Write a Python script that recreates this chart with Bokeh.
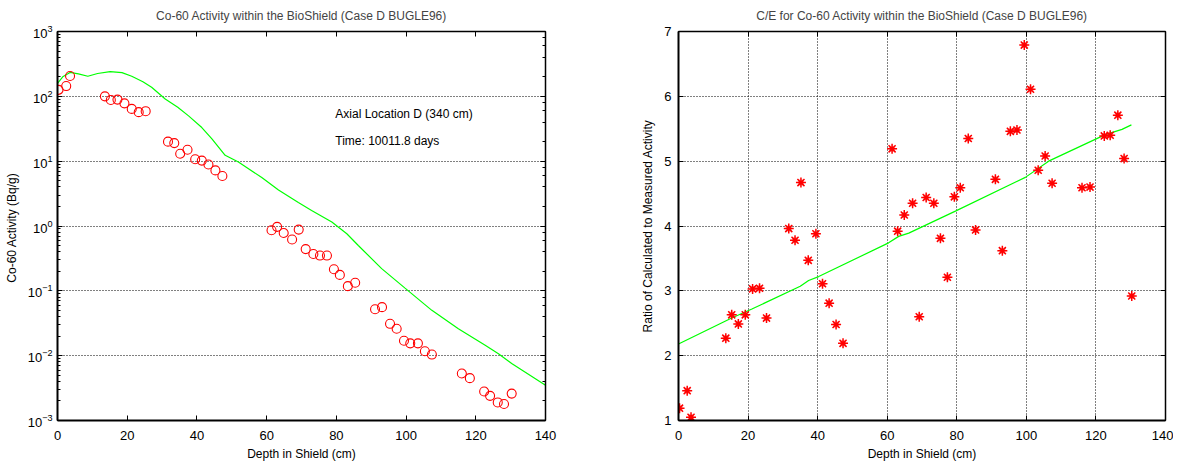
from bokeh.plotting import figure
from bokeh.layouts import row
from bokeh.models import (LinearAxis, LogAxis, Range1d, FixedTicker, Label, CustomJSTickFormatter)
from bokeh.embed import file_html
from bokeh.resources import INLINE

FONT = "Liberation Sans"

# ---------------- data ----------------
depth = [0.3, 2.5, 3.6, 13.6, 15.3, 17.2, 19.2, 21.3, 23.3, 25.3,
         31.7, 33.5, 35.2, 37.3, 39.5, 41.4, 43.3, 45.3, 47.3,
         61.4, 63.0, 64.9, 67.3, 69.2, 71.2, 73.4, 75.3, 77.3, 79.3, 81.0, 83.3, 85.4,
         91.1, 93.1, 95.4, 97.3, 99.4, 101.2, 103.4, 105.4, 107.4,
         116.0, 118.3, 122.4, 124.1, 126.3, 128.1, 130.3]

measured = [126, 144, 206, 100, 88, 89, 78, 64, 57, 59,
            20, 19, 13, 15, 10.7, 10.2, 8.9, 7.2, 5.9,
            0.86, 0.97, 0.78, 0.62, 0.88, 0.44, 0.37, 0.35, 0.35, 0.215, 0.176, 0.118, 0.133,
            0.052, 0.056, 0.031, 0.026, 0.017, 0.0155, 0.0155, 0.0117, 0.0104,
            0.0053, 0.0045, 0.0028, 0.0024, 0.0019, 0.0018, 0.0026]

ce_ratio = [1.19, 1.46, 1.05, 2.27, 2.63, 2.49, 2.63, 3.03, 3.04, 2.58,
            3.96, 3.78, 4.67, 3.47, 3.88, 3.11, 2.81, 2.48, 2.19,
            5.19, 3.92, 4.17, 4.35, 2.60, 4.44, 4.35, 3.81, 3.21, 4.45, 4.59, 5.35, 3.94,
            4.72, 3.62, 5.46, 5.48, 6.79, 6.11, 4.86, 5.08, 4.66,
            4.59, 4.60, 5.39, 5.40, 5.71, 5.04, 2.92]

calc_depth = [0, 1.5, 3.6, 6.0, 8.7, 11.5, 15.1, 18.5, 21.3, 24.5, 27, 30.9, 34.5,
              37.6, 41.4, 44.3, 48.1, 51.9, 58.6, 63.4, 69.1, 72.9, 78.7, 83, 86.3,
              93, 99.7, 107.4, 115, 122.7, 126.5, 130.3, 140]
calc_act = [158, 200, 234, 222, 204, 225, 240, 232, 204, 168, 138, 91, 68,
            50, 33, 22, 12.3, 9.7, 5.6, 3.6, 2.3, 1.74, 1.15, 0.76, 0.50,
            0.22, 0.11, 0.050, 0.026, 0.0145, 0.0107, 0.0076, 0.0035]

fit_depth = [0, 15.3, 21.1, 35, 37.4, 40.3, 60.4, 63.3, 66.2, 79.6, 99.7, 106.4,
             122.7, 127.5, 130.2]
fit_ratio = [2.18, 2.58, 2.72, 3.07, 3.16, 3.22, 3.74, 3.84, 3.89, 4.23, 4.75, 5.0,
             5.41, 5.49, 5.56]

x_ticks = [0, 20, 40, 60, 80, 100, 120, 140]
ce_ticks = [1, 2, 3, 4, 5, 6, 7]

title_left = "Co-60 Activity within the BioShield (Case D BUGLE96)"
title_right = "C/E for Co-60 Activity within the BioShield (Case D BUGLE96)"
note1 = "Axial Location D (340 cm)"
note2 = "Time: 10011.8 days"


def style_axis(ax, labels=True, width=1.5):
    ax.axis_line_width = width
    ax.axis_line_color = "black"
    ax.major_tick_in = 5
    ax.major_tick_out = 0
    ax.minor_tick_in = 3
    ax.minor_tick_out = 0
    ax.major_tick_line_color = "black"
    ax.minor_tick_line_color = "black"
    ax.major_label_text_font = FONT
    ax.major_label_text_font_size = "13px"
    ax.major_label_text_color = "black"
    ax.major_label_standoff = 7
    ax.axis_label_text_font = FONT
    ax.axis_label_text_font_size = "12px"
    ax.axis_label_text_font_style = "normal"
    ax.axis_label_text_color = "black"
    ax.axis_label_standoff = 6
    if not labels:
        ax.formatter = CustomJSTickFormatter(code="return ' ';")
        ax.major_label_standoff = 0
        ax.major_label_text_font_size = "1px"


def style_title(p):
    p.title.text_font = FONT
    p.title.text_font_size = "12px"
    p.title.text_font_style = "normal"
    p.title.align = "center"
    p.title.offset = 0
    p.title.standoff = 9


def style_xaxis(ax):
    style_axis(ax, width=2)
    ax.major_label_standoff = 10
    ax.axis_label_standoff = 4


# ---------------- left plot ----------------
p1 = figure(width=612, height=463, y_axis_type="log", output_backend="svg",
            toolbar_location=None, title=title_left,
            x_range=Range1d(0, 140), y_range=Range1d(1e-3, 1e3),
            min_border_left=57, min_border_right=67, min_border_top=31, min_border_bottom=42)
style_title(p1)
p1.outline_line_color = "black"
p1.outline_line_width = 1
p1.background_fill_color = "white"
p1.xgrid.grid_line_color = None
p1.ygrid.grid_line_color = "black"
p1.ygrid.grid_line_dash = "1 2"
p1.ygrid.grid_line_width = 1
p1.xaxis.ticker = FixedTicker(ticks=x_ticks)
p1.xaxis.axis_label = "Depth in Shield (cm)"
p1.yaxis.axis_label = "Co-60 Activity  (Bq/g)"
style_xaxis(p1.xaxis[0])
style_axis(p1.yaxis[0], width=2)
p1.yaxis[0].major_label_standoff = 5

top1 = LinearAxis(ticker=FixedTicker(ticks=x_ticks))
style_axis(top1, labels=False)
p1.add_layout(top1, "above")
right1 = LogAxis()
style_axis(right1, labels=False)
p1.add_layout(right1, "right")

p1.line(calc_depth, calc_act, line_color="#00ff00", line_width=1.2)
p1.scatter(depth, measured, marker="circle", size=9, fill_color=None,
           line_color="red", line_width=1.1)

p1.add_layout(Label(x=79.7, y=53.5, text=note1, text_font=FONT, text_font_size="12px",
                    text_baseline="middle", text_color="black"))
p1.add_layout(Label(x=79.7, y=20.8, text=note2, text_font=FONT, text_font_size="12px",
                    text_baseline="middle", text_color="black"))

# ---------------- right plot ----------------
p2 = figure(width=561, height=463, output_backend="svg", toolbar_location=None,
            title=title_right, x_range=Range1d(0, 140), y_range=Range1d(1, 7),
            min_border_left=66, min_border_right=8, min_border_top=31, min_border_bottom=42)
style_title(p2)
p2.outline_line_color = "black"
p2.outline_line_width = 1
p2.xgrid.grid_line_color = "black"
p2.ygrid.grid_line_color = "black"
p2.xgrid.grid_line_dash = "1 2"
p2.ygrid.grid_line_dash = "1 2"
p2.xaxis.ticker = FixedTicker(ticks=x_ticks)
p2.yaxis.ticker = FixedTicker(ticks=ce_ticks)
p2.xaxis.axis_label = "Depth in Shield (cm)"
p2.yaxis.axis_label = "Ratio of Calculated to Measured Activity"
style_xaxis(p2.xaxis[0])
style_axis(p2.yaxis[0], width=2)

top2 = LinearAxis(ticker=FixedTicker(ticks=x_ticks))
style_axis(top2, labels=False)
p2.add_layout(top2, "above")
right2 = LinearAxis(ticker=FixedTicker(ticks=ce_ticks))
style_axis(right2, labels=False)
p2.add_layout(right2, "right")

p2.line(fit_depth, fit_ratio, line_color="#00ff00", line_width=1.2)
p2.scatter(depth, ce_ratio, marker="square", size=6, fill_color="red", fill_alpha=0.35,
           line_color=None)
p2.scatter(depth, ce_ratio, marker="asterisk", size=10, line_color="red", line_width=1.5)

layout = row(p1, p2)
open("out.html", "w").write(file_html(layout, INLINE))
